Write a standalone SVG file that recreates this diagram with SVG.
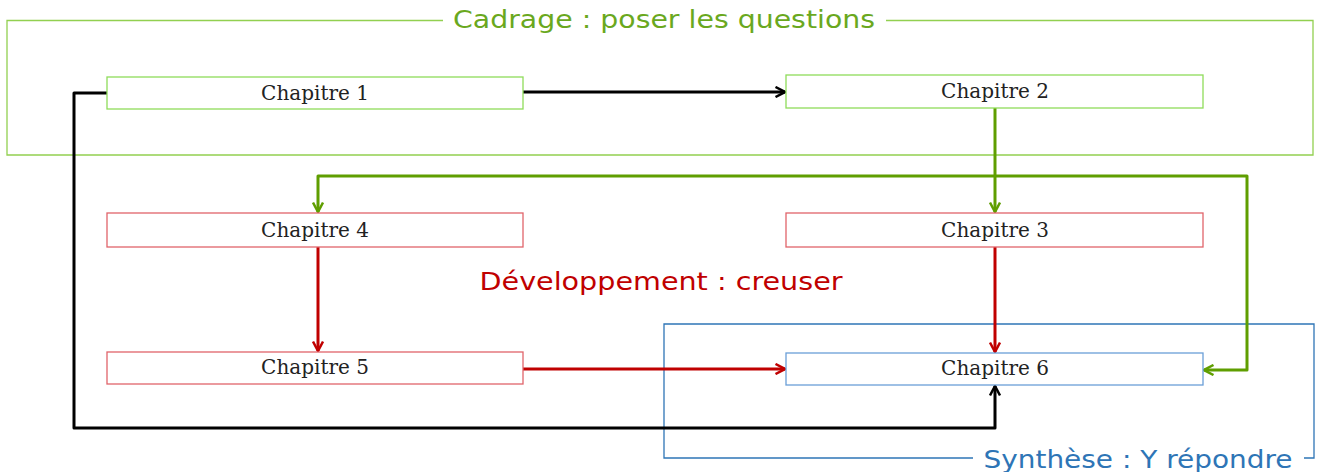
<svg xmlns="http://www.w3.org/2000/svg" width="1319" height="472" viewBox="0 0 1319 472">
<style>
  .frame{fill:none;stroke-width:1.3}
  .gf{stroke:#92d050}
  .bf{stroke:#2e75b6}
  .box{fill:#fff;stroke-width:1.3}
  .gbox{stroke:#8fdc5a}
  .rbox{stroke:#e0646a}
  .bbox{stroke:#6a9fd8}
  .lbl{font-family:"DejaVu Serif","Liberation Serif",serif;font-size:20px;fill:#222;text-anchor:middle}
  .title{font-family:"DejaVu Sans","Liberation Sans",sans-serif;font-size:25px}
  .conn{fill:none;stroke-width:3;stroke-linejoin:round}
  .k{stroke:#000}
  .g{stroke:#5f9e00}
  .r{stroke:#c00000}
</style>
<defs>
  <marker id="ak" viewBox="0 0 12 12" refX="11" refY="6" markerWidth="12" markerHeight="12" markerUnits="userSpaceOnUse" orient="auto"><path d="M1.5,1 L11,6 L1.5,11" fill="none" stroke="#000" stroke-width="2.5"/></marker>
  <marker id="ag" viewBox="0 0 12 12" refX="11" refY="6" markerWidth="12" markerHeight="12" markerUnits="userSpaceOnUse" orient="auto"><path d="M1.5,1 L11,6 L1.5,11" fill="none" stroke="#5f9e00" stroke-width="2.5"/></marker>
  <marker id="ar" viewBox="0 0 12 12" refX="11" refY="6" markerWidth="12" markerHeight="12" markerUnits="userSpaceOnUse" orient="auto"><path d="M1.5,1 L11,6 L1.5,11" fill="none" stroke="#c00000" stroke-width="2.5"/></marker>
</defs>
<rect width="1319" height="472" fill="#fff"/>
<g id="frames">
  <path class="frame gf" d="M443,20.5 H7 V155 H1313 V20.5 H886"/>
  <text class="title" x="664" y="28" text-anchor="middle" fill="#6aa81e" textLength="422" lengthAdjust="spacingAndGlyphs">Cadrage : poser les questions</text>
  <text class="title" x="661" y="290" text-anchor="middle" fill="#c00000" textLength="363" lengthAdjust="spacingAndGlyphs">Développement : creuser</text>
  <path class="frame bf" d="M973,458 H664 V324 H1314 V458 H1304"/>
  <text class="title" x="1138" y="468" text-anchor="middle" fill="#2e75b6" textLength="309" lengthAdjust="spacingAndGlyphs">Synthèse : Y répondre</text>
</g>
<g id="connectors">
  <path class="conn k" d="M523,92 H785" marker-end="url(#ak)"/>
  <path class="conn k" d="M107,93 H74 V428 H995 V386" marker-end="url(#ak)"/>
  <path class="conn g" d="M995,108 V212" marker-end="url(#ag)"/>
  <path class="conn g" d="M995,176 H318 V212" marker-end="url(#ag)"/>
  <path class="conn g" d="M995,176 H1247 V370 H1204" marker-end="url(#ag)"/>
  <path class="conn r" d="M318,247 V351" marker-end="url(#ar)"/>
  <path class="conn r" d="M995,247 V352" marker-end="url(#ar)"/>
  <path class="conn r" d="M523,369 H785" marker-end="url(#ar)"/>
</g>
<g id="ch1"><rect class="box gbox" x="107" y="77" width="416" height="32"/><text class="lbl" x="315" y="100">Chapitre 1</text></g>
<g id="ch2"><rect class="box gbox" x="786" y="75" width="417" height="33"/><text class="lbl" x="995" y="98">Chapitre 2</text></g>
<g id="ch4"><rect class="box rbox" x="107" y="213" width="416" height="34"/><text class="lbl" x="315" y="237">Chapitre 4</text></g>
<g id="ch3"><rect class="box rbox" x="786" y="213" width="417" height="34"/><text class="lbl" x="995" y="237">Chapitre 3</text></g>
<g id="ch5"><rect class="box rbox" x="107" y="352" width="416" height="32"/><text class="lbl" x="315" y="374">Chapitre 5</text></g>
<g id="ch6"><rect class="box bbox" x="786" y="353" width="417" height="32"/><text class="lbl" x="995" y="375">Chapitre 6</text></g>
</svg>
